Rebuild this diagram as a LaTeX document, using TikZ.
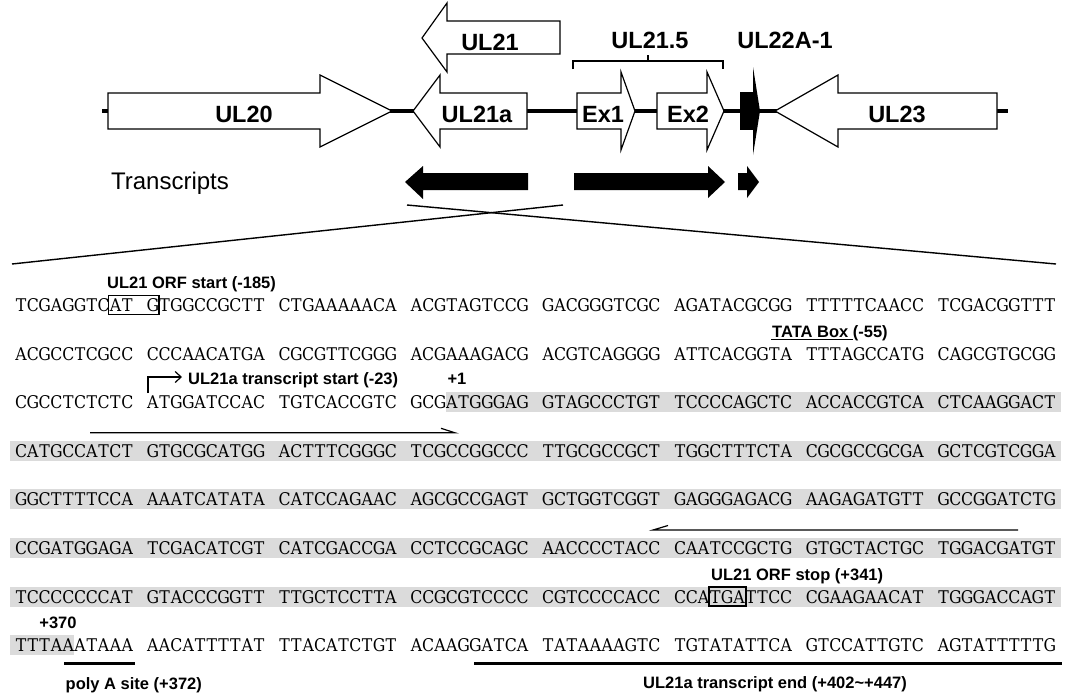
\documentclass[tikz,border=0pt]{standalone}
\usepackage{fontspec}
\setmainfont{Liberation Sans}
\newfontfamily\seqfont[FakeStretch=0.9]{DejaVu Serif}
\usetikzlibrary{arrows.meta}
\newlength\seqcw \setlength\seqcw{11.8pt}
\newlength\seqgap \setlength\seqgap{13.8pt}
\def\fwloop#1{\ifx#1\relax\else\makebox[\seqcw][c]{#1}\expandafter\fwloop\fi}
\newcommand\fwseq[1]{\fwloop#1\relax}
\newcommand\seqrow[8]{\fwseq{#1}\hspace{\seqgap}\fwseq{#2}\hspace{\seqgap}\fwseq{#3}\hspace{\seqgap}\fwseq{#4}\hspace{\seqgap}\fwseq{#5}\hspace{\seqgap}\fwseq{#6}\hspace{\seqgap}\fwseq{#7}\hspace{\seqgap}\fwseq{#8}}
\begin{document}
\begin{tikzpicture}[x=1pt,y=-1pt,
  gene/.style={draw=black, fill=white, line width=1.2pt, line join=miter},
  blk/.style={fill=black, draw=none},
  lab/.style={font=\fontsize{23.5}{25}\selectfont\bfseries, inner sep=0pt, text depth=0pt},
  plain/.style={font=\fontsize{24}{26}\selectfont, inner sep=0pt, text depth=0pt},
  ann/.style={font=\fontsize{16.5}{18}\selectfont\bfseries, inner sep=0pt, text depth=0pt},
  seq/.style={font=\seqfont\fontsize{17.5}{19}\selectfont, inner sep=0pt, anchor=west, text depth=0pt},
  hl/.style={fill=black!14, draw=none},
  bx/.style={draw=black, line width=1.3pt},
  thin/.style={draw=black, line width=1.2pt},
  thick/.style={draw=black, line width=3pt}]
\useasboundingbox (0,0) rectangle (1065,696);
% ---------- genome map ----------
\draw[line width=3.5pt] (102,111) coordinate (bbL) -- (1008,111) coordinate (bbR);
\draw[gene] (108,93) -- (320,93) -- (320,75) -- (392,111) -- (320,147) -- (320,129) -- (108,129) -- cycle;
\draw[gene] (413,111) -- (440,75) -- (440,93) -- (527,93) -- (527,129) -- (440,129) -- (440,147) -- cycle;
\draw[gene] (422,38) -- (447,3) -- (447,21) -- (560,21) -- (560,54) -- (447,54) -- (447,72) -- cycle;
\draw[gene] (577,93) -- (621,93) -- (621,72) -- (635,111) -- (621,150) -- (621,129) -- (577,129) -- cycle;
\draw[gene] (657,93) -- (707,93) -- (707,72) -- (724,111) -- (707,150) -- (707,129) -- (657,129) -- cycle;
\draw[gene] (775,111) -- (838,75) -- (838,93) -- (997,93) -- (997,129) -- (838,129) -- (838,147) -- cycle;
\fill[blk] (740,92) rectangle (753.5,130);
\fill[blk] (753,67) -- (760,111) -- (753,155) -- cycle;
\draw[thin] (573,69) -- (573,61) -- (723,61) -- (723,69);
\draw[thin] (648,61) -- (648,55);
\node[lab] (ul20) at (244,114) {UL20};
\node[lab] (ul21a) at (477,114) {UL21a};
\node[lab] (ul21) at (490,42) {UL21};
\node[lab] (ul215) at (650,40) {UL21.5};
\node[lab] (ul22) at (785,40) {UL22A-1};
\node[lab] (ex1) at (603,114) {Ex1};
\node[lab] (ex2) at (688,114) {Ex2};
\node[lab] (ul23) at (897,114) {UL23};
% ---------- transcripts ----------
\node[plain] (tr) at (170,181) {Transcripts};
\fill[blk] (405,182) -- (423,166) -- (423,173) -- (528,173) -- (528,190) -- (423,190) -- (423,199) -- cycle;
\fill[blk] (574,173) -- (708,173) -- (708,166) -- (725,182) -- (708,198) -- (708,190) -- (574,190) -- cycle;
\fill[blk] (738,173) -- (747,173) -- (747,166) -- (759,182) -- (747,198) -- (747,190) -- (738,190) -- cycle;
% ---------- zoom lines ----------
\coordinate (zA) at (407,205);
\coordinate (zB) at (563,205);
\coordinate (zL) at (12,264);
\coordinate (zR) at (1056,264);
\draw[line width=1.4pt] (zA) -- (zR);
\draw[line width=1.4pt] (zB) -- (zL);
% ---------- highlights ----------
\fill[hl] (445.8,392.2) rectangle (1061,412.2);
\fill[hl] (10,440.8) rectangle (1061,460.8);
\fill[hl] (10,489.4) rectangle (1061,509.4);
\fill[hl] (10,538) rectangle (1061,558);
\fill[hl] (10,586.6) rectangle (1061,606.6);
\fill[hl] (10,635.2) rectangle (74,655.2);
% ---------- sequence ----------
\node[seq] (r1) at (15,305) {\seqrow{TCGAGGTCAT}{GTGGCCGCTT}{CTGAAAAACA}{ACGTAGTCCG}{GACGGGTCGC}{AGATACGCGG}{TTTTTCAACC}{TCGACGGTTT}};
\node[seq] (r2) at (15,353.6) {\seqrow{ACGCCTCGCC}{CCCAACATGA}{CGCGTTCGGG}{ACGAAAGACG}{ACGTCAGGGG}{ATTCACGGTA}{TTTAGCCATG}{CAGCGTGCGG}};
\node[seq] (r3) at (15,402.2) {\seqrow{CGCCTCTCTC}{ATGGATCCAC}{TGTCACCGTC}{GCGATGGGAG}{GTAGCCCTGT}{TCCCCAGCTC}{ACCACCGTCA}{CTCAAGGACT}};
\node[seq] (r4) at (15,450.8) {\seqrow{CATGCCATCT}{GTGCGCATGG}{ACTTTCGGGC}{TCGCCGGCCC}{TTGCGCCGCT}{TGGCTTTCTA}{CGCGCCGCGA}{GCTCGTCGGA}};
\node[seq] (r5) at (15,499.4) {\seqrow{GGCTTTTCCA}{AAATCATATA}{CATCCAGAAC}{AGCGCCGAGT}{GCTGGTCGGT}{GAGGGAGACG}{AAGAGATGTT}{GCCGGATCTG}};
\node[seq] (r6) at (15,548) {\seqrow{CCGATGGAGA}{TCGACATCGT}{CATCGACCGA}{CCTCCGCAGC}{AACCCCTACC}{CAATCCGCTG}{GTGCTACTGC}{TGGACGATGT}};
\node[seq] (r7) at (15,596.6) {\seqrow{TCCCCCCCAT}{GTACCCGGTT}{TTGCTCCTTA}{CCGCGTCCCC}{CGTCCCCACC}{CCATGATTCC}{CGAAGAACAT}{TGGGACCAGT}};
\node[seq] (r8) at (15,645.2) {\seqrow{TTTAAATAAA}{AACATTTTAT}{TTACATCTGT}{ACAAGGATCA}{TATAAAAGTC}{TGTATATTCA}{GTCCATTGTC}{AGTATTTTTG}};
% ---------- boxes ----------
\draw[bx] (108.5,295.5) rectangle (159,314.5);
\draw[bx] (709,587.1) rectangle (746,606.1);
% ---------- annotations ----------
\node[ann, anchor=west] (orfs) at (107,283) {UL21 ORF start (-185)};
\node[ann, anchor=west] (tata) at (772,331.6) {TATA Box (-55)};
\draw[line width=1.5pt] (771,339.5) -- (853,339.5);
\node[ann, anchor=west] (tss) at (188,379) {UL21a transcript start (-23)};
\node[ann] (p1) at (457,379) {+1};
\draw[thin, -{Straight Barb[length=6pt,width=11pt]}] (148,393) -- (148,377) -- (182,377);
\node[ann, anchor=west] (orfe) at (711,575) {UL21 ORF stop (+341)};
\node[ann] (p370) at (58,623) {+370};
\coordinate (h1a) at (90,432.8);
\coordinate (h1b) at (455,432.8);
\draw[thin] (h1a) -- (h1b) -- ++(-14,-4.5);
\coordinate (h2a) at (1018,530);
\coordinate (h2b) at (653,530);
\draw[thin] (h2a) -- (h2b) -- ++(15,-4.5);
\draw[thick] (64,663) -- (134.5,663);
\draw[thick] (474,663) -- (1062,663);
\node[ann, anchor=west] (polya) at (65.5,684) {poly A site (+372)};
\node[ann, anchor=west] (tend) at (643,683) {UL21a transcript end (+402\textasciitilde+447)};
\end{tikzpicture}
\end{document}
